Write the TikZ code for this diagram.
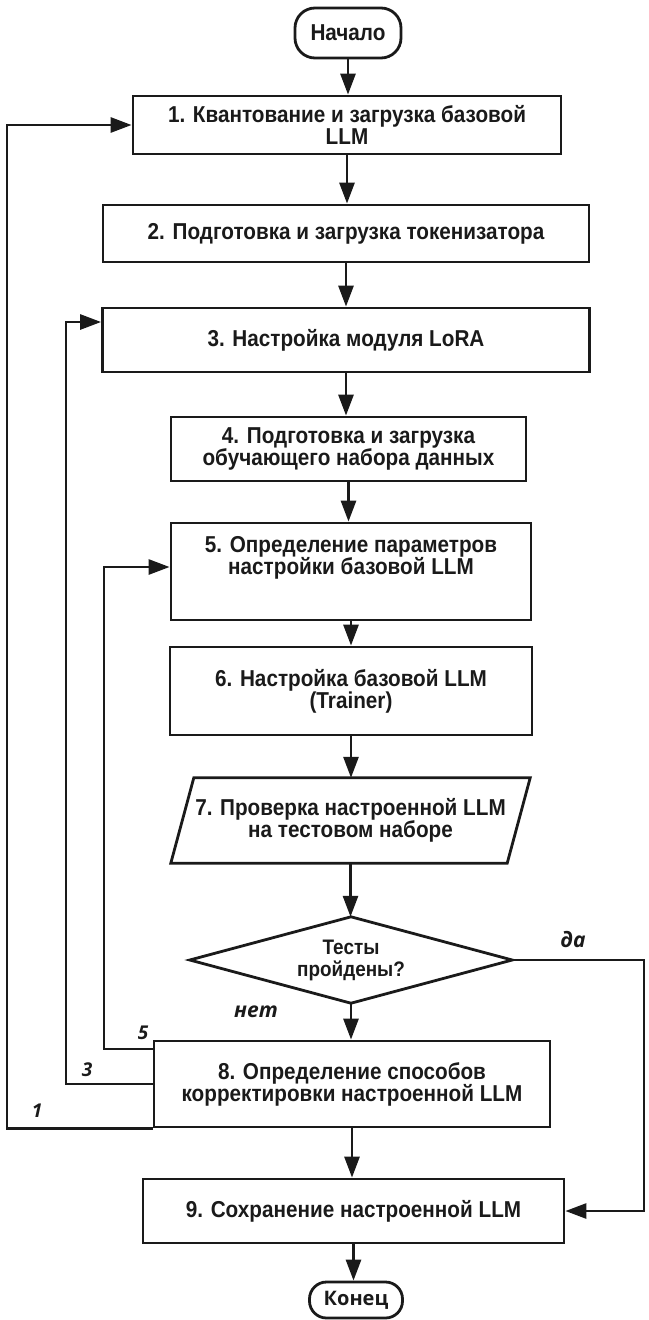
\documentclass[tikz,border=0pt]{standalone}
\usepackage{fontspec}
\usetikzlibrary{arrows.meta,calc}
\setmainfont{Liberation Sans}
\newfontfamily\boxfont{Liberation Sans}[FakeStretch=0.9]
\newfontfamily\labfont{Open Sans}
\definecolor{ink}{HTML}{1A1A1A}
\begin{document}
\begin{tikzpicture}[x=1pt,y=-1pt,
  box/.style={draw=ink, line width=2.8pt, rectangle, align=center, inner sep=0pt,
    font=\boxfont\bfseries\fontsize{23}{22}\selectfont, text=ink},
  ghost/.style={rectangle, align=center, inner sep=0pt,
    font=\boxfont\bfseries\fontsize{23}{22}\selectfont, text=ink},
  term/.style={box, rounded corners=20pt},
  arr/.style={draw=ink, line width=2.8pt, -{Triangle[length=21pt,width=15pt]}},
  ln/.style={draw=ink, line width=2.8pt},
  lab/.style={font=\labfont\bfseries\itshape\fontsize{21}{22}\selectfont, text=ink, inner sep=0pt},
  num/.style={font=\labfont\bfseries\itshape\fontsize{19}{20}\selectfont, text=ink, inner sep=0pt}]
\useasboundingbox (0,0) rectangle (648,1320);

\node[term, minimum width=106pt, minimum height=50pt] (start) at (348,33) {Начало};
\node[box, minimum width=428pt, minimum height=58pt] (b1) at (347,125) {1. Квантование и загрузка базовой\\LLM};
\node[box, minimum width=486pt, minimum height=57pt] (b2) at (346,233.5) {2. Подготовка и загрузка токенизатора};
\node[box, minimum width=487pt, minimum height=64pt] (b3) at (346,340) {3. Настройка модуля LoRA};
\node[box, minimum width=355pt, minimum height=64pt] (b4) at (348.5,449) {4. Подготовка и загрузка\\обучающего набора данных};
\node[box, minimum width=360pt, minimum height=97pt] (b5) at (351,571.5) {5. Определение параметров\\настройки базовой LLM\\[10pt]};
\node[box, minimum width=362pt, minimum height=88pt] (b6) at (351,691) {6. Настройка базовой LLM\\(Trainer)};
\node[ghost, minimum width=336pt, minimum height=85pt] (b7) at (350.5,820.5) {7. Проверка настроенной LLM\\на тестовом наборе};
\draw[ln] ([xshift=11.5pt]b7.north west) -- ([xshift=11.5pt]b7.north east)
  -- ([xshift=-11.5pt]b7.south east) -- ([xshift=-11.5pt]b7.south west) -- cycle;
\node[ghost, minimum width=322pt, minimum height=86pt, font=\boxfont\bfseries\fontsize{21}{22}\selectfont] (d) at (351,960) {Тесты\\пройдены?};
\draw[ln, line join=miter] (d.north) -- (d.east) -- (d.south) -- (d.west) -- cycle;
\node[box, minimum width=396pt, minimum height=86pt] (b8) at (352,1084) {8. Определение способов\\корректировки настроенной LLM};
\node[box, minimum width=421pt, minimum height=64pt] (b9) at (353.5,1211) {9. Сохранение настроенной LLM};
\node[term, minimum width=93pt, minimum height=36pt, rounded corners=17pt, font=\labfont\bfseries\fontsize{20}{22}\selectfont] (end) at (356,1300) {Конец};

% main flow
\draw[arr] (start.south) -- (start.south |- b1.north);
\draw[arr] (b1.south) -- (b1.south |- b2.north);
\draw[arr] (b2.south) -- (b2.south |- b3.north);
\draw[arr] (b3.south) -- (b3.south |- b4.north);
\draw[arr] (b4.south) -- (b4.south |- b5.north);
\draw[arr] (b5.south) -- (b5.south |- b6.north);
\draw[arr] (b6.south) -- (b6.south |- b7.north);
\draw[arr] (b7.south) -- (b7.south |- d.north);
\draw[arr] (d.south) -- (d.south |- b8.north);
\draw[arr] (b8.south) -- (b8.south |- b9.north);
\draw[arr] (b9.south) -- (b9.south |- end.north);

% loops
\coordinate (x1) at (7,0);
\coordinate (x3) at (66,0);
\coordinate (x5) at (104,0);
\coordinate (xr) at (644,0);
\draw[arr] (b8.south west) -- (b8.south west -| x1) |- (b1.west);
\draw[arr] (b8.west) -- (b8.west -| x3) |- ([yshift=18pt]b3.west);
\draw[arr] ([yshift=35pt]b8.west) -- ([yshift=35pt]b8.west -| x5) |- ([yshift=4.5pt]b5.west);
\draw[arr] (d.east) -- (d.east -| xr) |- (b9.east);

% labels
\node[lab] (lda) at (573,940) {да};
\node[lab] (lnet) at (256,1012) {нет};
\node[num] (l5) at (143,1033) {5};
\node[num] (l3) at (87,1070) {3};
\node[num] (l1) at (37,1111) {1};
\end{tikzpicture}
\end{document}
